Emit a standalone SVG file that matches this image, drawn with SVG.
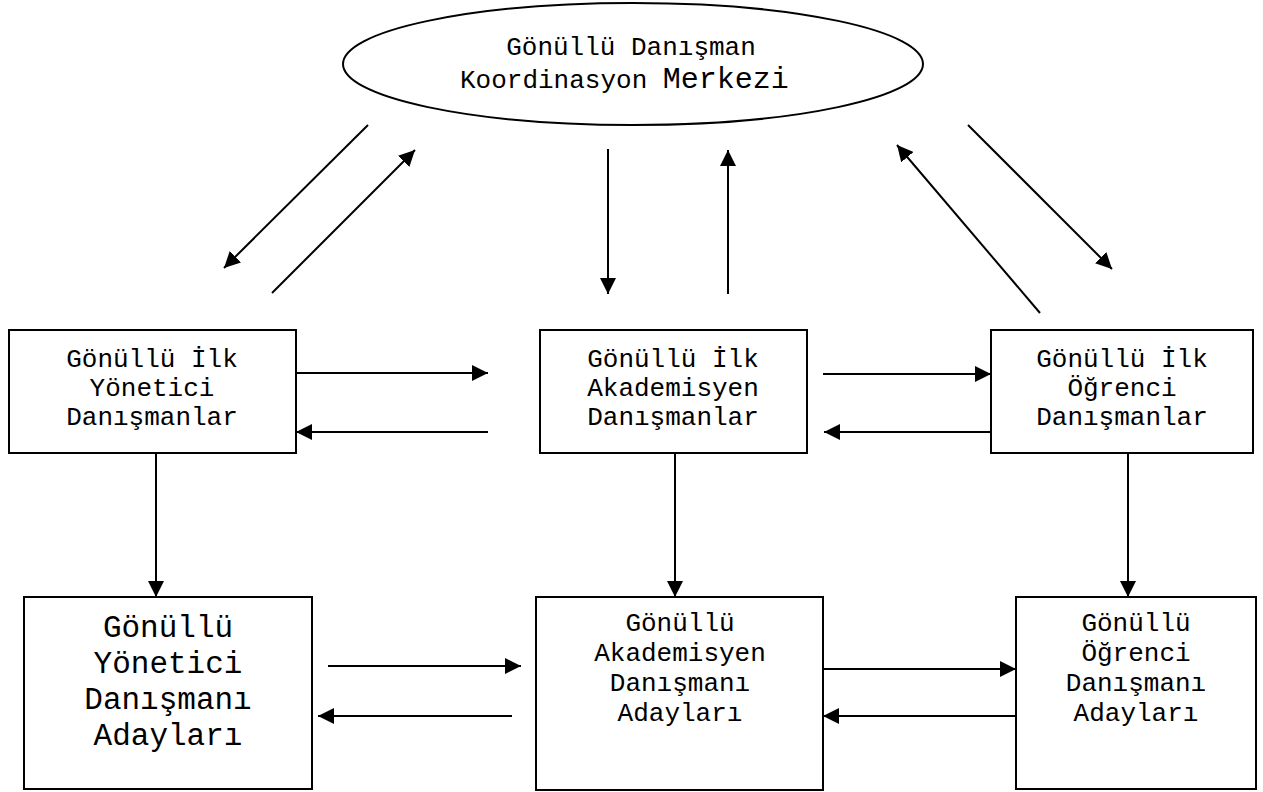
<svg xmlns="http://www.w3.org/2000/svg" width="1263" height="792" viewBox="0 0 1263 792">
<style>
.box{fill:#fff;stroke:#000;stroke-width:2}
.t{font-family:"Liberation Mono","Courier New",monospace;font-size:26px;fill:#000;text-anchor:middle}
.big{font-size:31px}
.c{stroke:#000;stroke-width:2;fill:none;marker-end:url(#ah)}
</style>
<defs>
<marker id="ah" markerUnits="userSpaceOnUse" markerWidth="16" markerHeight="16" refX="16" refY="8" orient="auto" viewBox="0 0 16 16">
<path d="M0,0 L16,8 L0,16 z" fill="#000"/>
</marker>
</defs>
<rect width="1263" height="792" fill="#fff"/>
<g id="merkez">
<ellipse cx="633" cy="64" rx="290" ry="61" class="box"/>
<text class="t" x="631" y="55">Gönüllü Danışman</text>
<text class="t" x="460" y="88" style="text-anchor:start">Koordinasyon <tspan style="font-size:30px">Merkezi</tspan></text>
</g>
<g id="ilk-yonetici">
<rect x="9" y="330" width="287" height="123" class="box"/>
<text class="t" x="152" y="367">Gönüllü İlk</text>
<text class="t" x="152" y="396">Yönetici</text>
<text class="t" x="152" y="425">Danışmanlar</text>
</g>
<g id="ilk-akademisyen">
<rect x="540" y="330" width="267" height="123" class="box"/>
<text class="t" x="673" y="367">Gönüllü İlk</text>
<text class="t" x="673" y="396">Akademisyen</text>
<text class="t" x="673" y="425">Danışmanlar</text>
</g>
<g id="ilk-ogrenci">
<rect x="991" y="330" width="262" height="123" class="box"/>
<text class="t" x="1122" y="367">Gönüllü İlk</text>
<text class="t" x="1122" y="396">Öğrenci</text>
<text class="t" x="1122" y="425">Danışmanlar</text>
</g>
<g id="yonetici-aday">
<rect x="24" y="597" width="288" height="192" class="box"/>
<text class="t big" x="168" y="637">Gönüllü</text>
<text class="t big" x="168" y="673">Yönetici</text>
<text class="t big" x="168" y="709">Danışmanı</text>
<text class="t big" x="168" y="745">Adayları</text>
</g>
<g id="akademisyen-aday">
<rect x="536" y="597" width="287" height="193" class="box"/>
<text class="t" x="680" y="631">Gönüllü</text>
<text class="t" x="680" y="661">Akademisyen</text>
<text class="t" x="680" y="691">Danışmanı</text>
<text class="t" x="680" y="721">Adayları</text>
</g>
<g id="ogrenci-aday">
<rect x="1016" y="597" width="240" height="192" class="box"/>
<text class="t" x="1136" y="631">Gönüllü</text>
<text class="t" x="1136" y="661">Öğrenci</text>
<text class="t" x="1136" y="691">Danışmanı</text>
<text class="t" x="1136" y="721">Adayları</text>
</g>
<g id="connectors">
<line class="c" x1="368" y1="125" x2="224" y2="268"/>
<line class="c" x1="272" y1="293" x2="415" y2="150"/>
<line class="c" x1="608" y1="149" x2="608" y2="294"/>
<line class="c" x1="728" y1="294" x2="728" y2="150"/>
<line class="c" x1="1040" y1="313" x2="897" y2="145"/>
<line class="c" x1="968" y1="125" x2="1112" y2="269"/>
<line class="c" x1="296" y1="373" x2="488" y2="373"/>
<line class="c" x1="488" y1="432" x2="296" y2="432"/>
<line class="c" x1="823" y1="374" x2="991" y2="374"/>
<line class="c" x1="991" y1="432" x2="824" y2="432"/>
<line class="c" x1="156" y1="453" x2="156" y2="597"/>
<line class="c" x1="675" y1="453" x2="675" y2="597"/>
<line class="c" x1="1128" y1="453" x2="1128" y2="597"/>
<line class="c" x1="328" y1="666" x2="521" y2="666"/>
<line class="c" x1="512" y1="716" x2="318" y2="716"/>
<line class="c" x1="823" y1="669" x2="1016" y2="669"/>
<line class="c" x1="1016" y1="716" x2="823" y2="716"/>
</g>
</svg>
